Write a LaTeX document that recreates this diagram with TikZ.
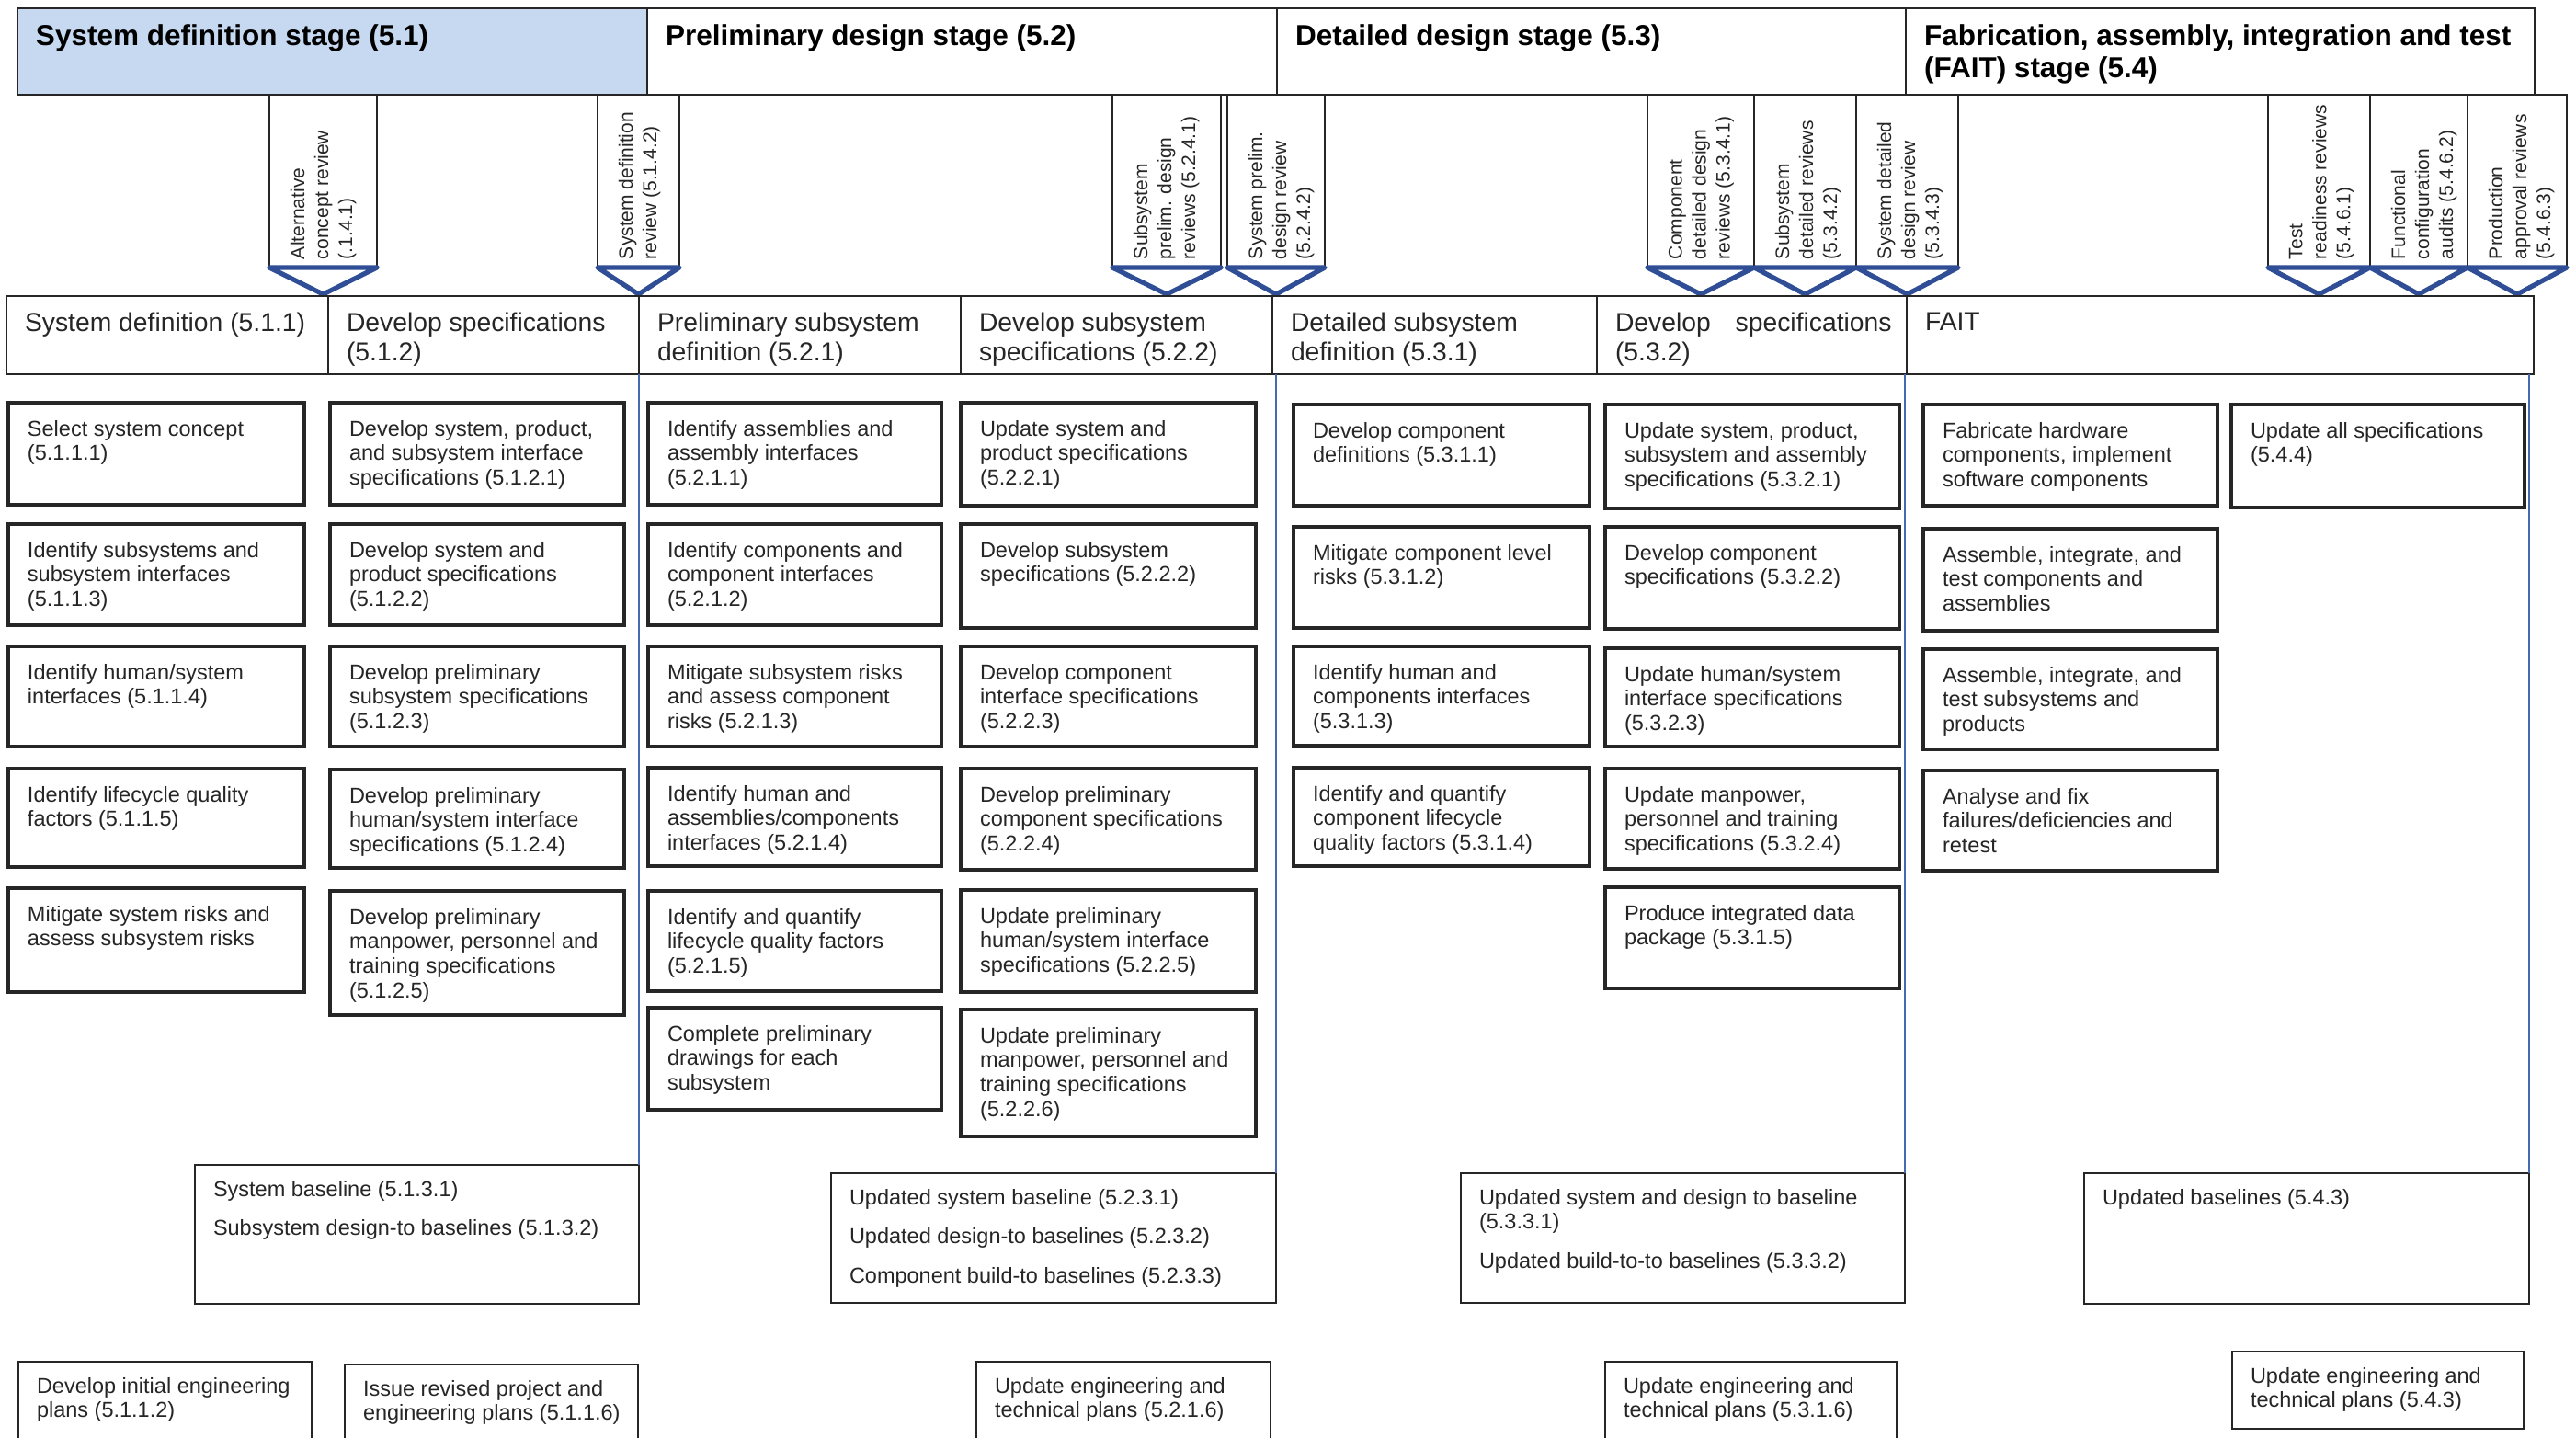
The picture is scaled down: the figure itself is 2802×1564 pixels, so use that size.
\documentclass[tikz,border=0pt]{standalone}
\usepackage{fontspec}
\setmainfont{Liberation Sans}
\usetikzlibrary{calc}

\definecolor{hdrblue}{RGB}{198,217,241}
\definecolor{revblue}{RGB}{47,78,150}
\definecolor{sepblue}{RGB}{70,105,180}
\definecolor{ink}{RGB}{38,38,38}

\tikzset{
  every node/.style={inner sep=0pt, outer sep=0pt},
  stageframe/.style={draw=ink, line width=1.2pt},
  stagetext/.style={align=left, text=black, font=\fontsize{15.75}{17.5}\selectfont\bfseries},
  subframe/.style={draw=ink, line width=0.9pt},
  subtext/.style={align=left, text=ink, font=\fontsize{14.15}{15.85}\selectfont},
  taskframe/.style={draw=ink, line width=2pt},
  tasktext/.style={align=left, text=ink, font=\fontsize{11.75}{13.35}\selectfont},
  outframe/.style={draw=ink, line width=0.9pt},
  revframe/.style={draw=ink, line width=0.8pt},
  revtri/.style={draw=revblue, line width=2.6pt, line join=round},
  revtext/.style={align=left, text=ink, font=\fontsize{10.5}{13}\selectfont},
  sepline/.style={draw=sepblue, line width=0.8pt},
}

% stage header cell: name, x1, y1, x2, y2, fill, text
\newcommand{\stagecell}[7]{%
  \node[stageframe, fill=#6, anchor=north west,
        minimum width={(#4-#2)*0.5pt}, minimum height={(#5-#3)*0.5pt}] (#1) at (#2,#3) {};
  \node[stagetext, anchor=north west] (#1-t) at ($(#1.north west)+(20,18)$) {#7};
}
% activity group header cell: name, x1, x2, text
\newcommand{\subcell}[4]{%
  \node[subframe, anchor=north west,
        minimum width={(#3-#2)*0.5pt}, minimum height={(407-322)*0.5pt}] (#1) at (#2,322) {};
  \node[subtext, anchor=north west] (#1-t) at ($(#1.north west)+(20,18)$) {#4};
}
% activity box: name, x1, y1, x2, y2, text
\newcommand{\taskcell}[6]{%
  \node[taskframe, anchor=north west,
        minimum width={(#4-#2)*0.5pt}, minimum height={(#5-#3)*0.5pt}] (#1) at (#2,#3) {};
  \node[tasktext, anchor=north west] (#1-t) at ($(#1.north west)+(21,19)$) {#6};
}
% baseline / plan box: name, x1, y1, x2, y2, text
\newcommand{\outcell}[6]{%
  \node[outframe, anchor=north west,
        minimum width={(#4-#2)*0.5pt}, minimum height={(#5-#3)*0.5pt}] (#1) at (#2,#3) {};
  \node[tasktext, anchor=north west] (#1-t) at ($(#1.north west)+(20,17)$) {#6};
}
% review tab with triangle marker: name, x1, x2, text
\newcommand{\reviewtab}[4]{%
  \node[revframe, anchor=north west,
        minimum width={(#3-#2)*0.5pt}, minimum height=94pt] (#1) at (#2,103) {};
  \draw[revtri] (#1.south west) -- (#1.south east) -- ($(#1.south)+(0,29)$) -- cycle;
  \node[revtext, rotate=90, anchor=north west] (#1-t) at ($(#1.south west)+(23,-9)$) {#4};
}

\begin{document}
\begin{tikzpicture}[x=0.5pt, y=-0.5pt]
\useasboundingbox (0,0) rectangle (2802,1564);
\clip (0,0) rectangle (2802,1564);
\fill[white] (0,0) rectangle (2802,1564);

% ---- stage headers
\stagecell{h1}{19}{9}{704}{103}{hdrblue}{System definition stage (5.1)}
\stagecell{h2}{704}{9}{1389}{103}{white}{Preliminary design stage (5.2)}
\stagecell{h3}{1389}{9}{2073}{103}{white}{Detailed design stage (5.3)}
\stagecell{h4}{2073}{9}{2757}{103}{white}{Fabrication, assembly, integration and test\\(FAIT) stage (5.4)}

% ---- reviews
\reviewtab{r1}{293}{410}{Alternative\\concept review\\(.1.4.1)}
\reviewtab{r2}{650}{739}{System definition\\review (5.1.4.2)}
\reviewtab{r3}{1210}{1328}{Subsystem\\prelim. design\\reviews (5.2.4.1)}
\reviewtab{r4}{1335}{1441}{System prelim.\\design review\\(5.2.4.2)}
\reviewtab{r5}{1792}{1908}{Component\\detailed design\\reviews (5.3.4.1)}
\reviewtab{r6}{1908}{2019}{Subsystem\\detailed reviews\\(5.3.4.2)}
\reviewtab{r7}{2019}{2130}{System detailed\\design review\\(5.3.4.3)}
\reviewtab{r8}{2467}{2578}{Test\\readiness reviews\\(5.4.6.1)}
\reviewtab{r9}{2578}{2684}{Functional\\configuration\\audits (5.4.6.2)}
\reviewtab{r10}{2684}{2792}{Production\\approval reviews\\(5.4.6.3)}

% ---- activity group headers
\subcell{s1}{7}{357}{System definition (5.1.1)}
\subcell{s2}{357}{695}{Develop specifications\\(5.1.2)}
\subcell{s3}{695}{1045}{Preliminary subsystem\\definition (5.2.1)}
\subcell{s4}{1045}{1384}{Develop subsystem\\specifications (5.2.2)}
\subcell{s5}{1384}{1737}{Detailed subsystem\\definition (5.3.1)}
\subcell{s6}{1737}{2074}{Develop\hspace{0.95em}specifications\\(5.3.2)}
\subcell{s7}{2074}{2756}{FAIT}

% ---- system definition (5.1.1)
\taskcell{a1}{9}{438}{331}{549}{Select system concept\\(5.1.1.1)}
\taskcell{a2}{9}{570}{331}{680}{Identify subsystems and\\subsystem interfaces\\(5.1.1.3)}
\taskcell{a3}{9}{703}{331}{812}{Identify human/system\\interfaces (5.1.1.4)}
\taskcell{a4}{9}{836}{331}{943}{Identify lifecycle quality\\factors (5.1.1.5)}
\taskcell{a5}{9}{966}{331}{1079}{Mitigate system risks and\\assess subsystem risks}

% ---- develop specifications (5.1.2)
\taskcell{b1}{359}{438}{679}{549}{Develop system, product,\\and subsystem interface\\specifications (5.1.2.1)}
\taskcell{b2}{359}{570}{679}{680}{Develop system and\\product specifications\\(5.1.2.2)}
\taskcell{b3}{359}{703}{679}{812}{Develop preliminary\\subsystem specifications\\(5.1.2.3)}
\taskcell{b4}{359}{837}{679}{944}{Develop preliminary\\human/system interface\\specifications (5.1.2.4)}
\taskcell{b5}{359}{969}{679}{1104}{Develop preliminary\\manpower, personnel and\\training specifications\\(5.1.2.5)}

% ---- preliminary subsystem definition (5.2.1)
\taskcell{c1}{705}{438}{1024}{549}{Identify assemblies and\\assembly interfaces\\(5.2.1.1)}
\taskcell{c2}{705}{570}{1024}{680}{Identify components and\\component interfaces\\(5.2.1.2)}
\taskcell{c3}{705}{703}{1024}{812}{Mitigate subsystem risks\\and assess component\\risks (5.2.1.3)}
\taskcell{c4}{705}{835}{1024}{942}{Identify human and\\assemblies/components\\interfaces (5.2.1.4)}
\taskcell{c5}{705}{969}{1024}{1078}{Identify and quantify\\lifecycle quality factors\\(5.2.1.5)}
\taskcell{c6}{705}{1096}{1024}{1207}{Complete preliminary\\drawings for each\\subsystem}

% ---- develop subsystem specifications (5.2.2)
\taskcell{d1}{1045}{438}{1366}{550}{Update system and\\product specifications\\(5.2.2.1)}
\taskcell{d2}{1045}{570}{1366}{683}{Develop subsystem\\specifications (5.2.2.2)}
\taskcell{d3}{1045}{703}{1366}{812}{Develop component\\interface specifications\\(5.2.2.3)}
\taskcell{d4}{1045}{836}{1366}{946}{Develop preliminary\\component specifications\\(5.2.2.4)}
\taskcell{d5}{1045}{968}{1366}{1079}{Update preliminary\\human/system interface\\specifications (5.2.2.5)}
\taskcell{d6}{1045}{1098}{1366}{1236}{Update preliminary\\manpower, personnel and\\training specifications\\(5.2.2.6)}

% ---- detailed subsystem definition (5.3.1)
\taskcell{e1}{1407}{440}{1729}{550}{Develop component\\definitions (5.3.1.1)}
\taskcell{e2}{1407}{573}{1729}{683}{Mitigate component level\\risks (5.3.1.2)}
\taskcell{e3}{1407}{703}{1729}{811}{Identify human and\\components interfaces\\(5.3.1.3)}
\taskcell{e4}{1407}{835}{1729}{942}{Identify and quantify\\component lifecycle\\quality factors (5.3.1.4)}

% ---- develop specifications (5.3.2)
\taskcell{f1}{1746}{440}{2066}{553}{Update system, product,\\subsystem and assembly\\specifications (5.3.2.1)}
\taskcell{f2}{1746}{573}{2066}{684}{Develop component\\specifications (5.3.2.2)}
\taskcell{f3}{1746}{705}{2066}{812}{Update human/system\\interface specifications\\(5.3.2.3)}
\taskcell{f4}{1746}{836}{2066}{945}{Update manpower,\\personnel and training\\specifications (5.3.2.4)}
\taskcell{f5}{1746}{965}{2066}{1075}{Produce integrated data\\package (5.3.1.5)}

% ---- FAIT
\taskcell{g1}{2092}{440}{2412}{550}{Fabricate hardware\\components, implement\\software components}
\taskcell{g2}{2092}{575}{2412}{686}{Assemble, integrate, and\\test components and\\assemblies}
\taskcell{g3}{2092}{706}{2412}{815}{Assemble, integrate, and\\test subsystems and\\products}
\taskcell{g4}{2092}{838}{2412}{947}{Analyse and fix\\failures/deficiencies and\\retest}
\taskcell{k1}{2427}{440}{2746}{552}{Update all specifications\\(5.4.4)}

% ---- baselines
\outcell{bl1}{212}{1267}{695}{1418}{System baseline (5.1.3.1)\\[8pt]Subsystem design-to baselines (5.1.3.2)}
\outcell{bl2}{904}{1276}{1388}{1417}{Updated system baseline (5.2.3.1)\\[8pt]Updated design-to baselines (5.2.3.2)\\[8pt]Component build-to baselines (5.2.3.3)}
\outcell{bl3}{1589}{1276}{2072}{1417}{Updated system and design to baseline\\(5.3.3.1)\\[8pt]Updated build-to-to baselines (5.3.3.2)}
\outcell{bl4}{2267}{1276}{2751}{1418}{Updated baselines (5.4.3)}

% ---- plans
\outcell{p1}{20}{1481}{339}{1600}{Develop initial engineering\\plans (5.1.1.2)}
\outcell{p2}{375}{1484}{694}{1600}{Issue revised project and\\engineering plans (5.1.1.6)}
\outcell{p3}{1062}{1481}{1382}{1600}{Update engineering and\\technical plans (5.2.1.6)}
\outcell{p4}{1746}{1481}{2063}{1600}{Update engineering and\\technical plans (5.3.1.6)}
\outcell{p5}{2428}{1470}{2745}{1554}{Update engineering and\\technical plans (5.4.3)}

% ---- stage separators down to the baselines
\draw[sepline] (bl1.north east) -- (bl1.north east |- s2.south);
\draw[sepline] (bl2.north east) -- (bl2.north east |- s4.south);
\draw[sepline] (bl3.north east) -- (bl3.north east |- s6.south);
\draw[sepline] (bl4.north east) -- (bl4.north east |- s7.south);
\end{tikzpicture}
\end{document}
